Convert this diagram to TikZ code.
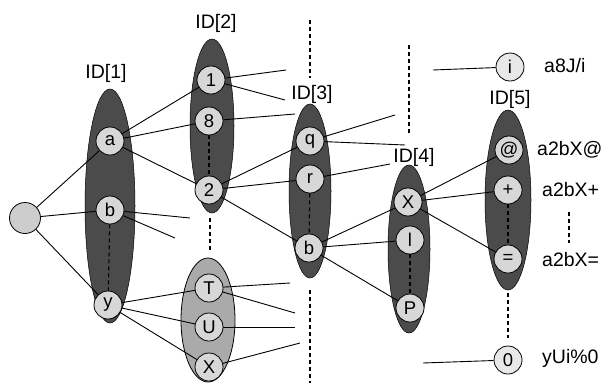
\documentclass[tikz,border=0pt]{standalone}
\usepackage{fontspec}
\setmainfont{Liberation Sans}
\usetikzlibrary{shapes.geometric}
\definecolor{grpdark}{RGB}{75,75,75}
\definecolor{grplight}{RGB}{170,170,170}
\definecolor{ndfill}{RGB}{215,215,215}
\definecolor{rootfill}{RGB}{205,205,205}
\definecolor{endfill}{RGB}{232,232,232}
\tikzset{
  grp/.style={ellipse, draw=black, line width=0.5pt, fill=grpdark, inner sep=0pt},
  grplt/.style={ellipse, draw=black, line width=0.8pt, fill=grplight, inner sep=0pt},
  nd/.style={circle, draw=black, line width=0.8pt, fill=ndfill, minimum size=28pt, inner sep=0pt, font=\fontsize{18.5}{20}\selectfont},
  endnd/.style={nd, fill=endfill},
  lbl/.style={font=\fontsize{19.5}{22}\selectfont, inner sep=0pt},
  edge/.style={line width=0.9pt},
  dsh/.style={line width=1.1pt, dash pattern=on 4pt off 3pt}
}
\begin{document}
\begin{tikzpicture}[x=1pt,y=-1pt]
\useasboundingbox (0,0) rectangle (610,383);
% group ellipses
\node[grp, minimum width=50pt, minimum height=234pt] (g1) at (110,206) {};
\node[grp, minimum width=44pt, minimum height=174pt] (g2) at (212,126) {};
\node[grplt, minimum width=54pt, minimum height=124pt] (g2b) at (208,320) {};
\node[grp, minimum width=42pt, minimum height=174pt] (g3) at (310,191) {};
\node[grp, minimum width=42pt, minimum height=168pt] (g4) at (409,249) {};
\node[grp, minimum width=46pt, minimum height=180pt] (g5) at (508,200) {};
% group labels
\node[lbl] (l1) at (106,73) {ID[1]};
\node[lbl] (l2) at (216,23) {ID[2]};
\node[lbl] (l3) at (312,94) {ID[3]};
\node[lbl] (l4) at (414,157) {ID[4]};
\node[lbl] (l5) at (510,99) {ID[5]};
% nodes
\node[nd, fill=rootfill, minimum size=31pt] (root) at (25,218) {};
\node[nd] (a) at (110,141) {a};
\node[nd] (b) at (110,210) {b};
\node[nd] (y) at (108,305) {y};
\node[nd] (n1) at (211,80) {1};
\node[nd] (n8) at (209,121) {8};
\node[nd] (n2) at (209,190) {2};
\node[nd] (T) at (209,288) {T};
\node[nd] (U) at (209,327) {U};
\node[nd] (X) at (209,367) {X};
\node[nd] (q) at (310,141) {q};
\node[nd] (r) at (310,179) {r};
\node[nd] (b3) at (309,248) {b};
\node[nd] (X4) at (408,202) {X};
\node[nd] (l) at (410,240) {l};
\node[nd] (P) at (410,308) {P};
\node[nd] (at) at (509,150) {@};
\node[nd] (plus) at (508,190) {+};
\node[nd] (eq) at (508,259) {=};
\node[endnd] (i) at (510,67) {i};
\node[endnd] (z) at (508,360) {0};
% right labels
\node[lbl, anchor=west] (ti) at (544,66) {a8J/i};
\node[lbl, anchor=west] (tat) at (537,150) {a2bX@};
\node[lbl, anchor=west] (tplus) at (542,190) {a2bX+};
\node[lbl, anchor=west] (teq) at (542,260) {a2bX=};
\node[lbl, anchor=west] (tz) at (542,358) {yUi\%0};
% free ends
\coordinate (fb1) at (190,218);
\coordinate (fb2) at (175,238);
\coordinate (f11) at (286,70);
\coordinate (f12) at (285,100);
\coordinate (f8) at (295,114);
\coordinate (fq1) at (395,115);
\coordinate (fq2) at (405,145);
\coordinate (fr) at (390,164);
\coordinate (fT1) at (290,283);
\coordinate (fT2) at (295,313);
\coordinate (fU) at (295,327);
\coordinate (fX) at (300,343);
\coordinate (fi) at (433,70);
\coordinate (fz) at (423,363);
% dashed separators
\coordinate (d3a) at (310,20);
\coordinate (d3b) at (310,78);
\coordinate (d3c) at (310,290);
\coordinate (d3d) at (310,383);
\coordinate (d4a) at (409,45);
\coordinate (d4b) at (409,133);
\coordinate (d2a) at (210,218);
\coordinate (d2b) at (210,252);
\coordinate (d5a) at (508,293);
\coordinate (d5b) at (508,338);
\coordinate (dta) at (569,212);
\coordinate (dtb) at (569,243);
\draw[dsh] (d3a) -- (d3b);
\draw[dsh] (d3c) -- (d3d);
\draw[dsh] (d4a) -- (d4b);
\draw[dsh] (d2a) -- (d2b);
\draw[dsh] (d5a) -- (d5b);
\draw[dsh] (dta) -- (dtb);
\draw[dsh] (b) -- (y);
\draw[dsh] (n8) -- (n2);
\draw[dsh] (r) -- (b3);
\draw[dsh] (l) -- (P);
\draw[dsh] (plus) -- (eq);
% edges
\draw[edge] (root) -- (a);
\draw[edge] (root) -- (b);
\draw[edge] (root) -- (y);
\draw[edge] (a) -- (n1);
\draw[edge] (a) -- (n8);
\draw[edge] (a) -- (n2);
\draw[edge] (b) -- (fb1);
\draw[edge] (b) -- (fb2);
\draw[edge] (y) -- (T);
\draw[edge] (y) -- (U);
\draw[edge] (y) -- (X);
\draw[edge] (n1) -- (f11);
\draw[edge] (n1) -- (f12);
\draw[edge] (n8) -- (f8);
\draw[edge] (n2) -- (q);
\draw[edge] (n2) -- (r);
\draw[edge] (n2) -- (b3);
\draw[edge] (q) -- (fq1);
\draw[edge] (q) -- (fq2);
\draw[edge] (r) -- (fr);
\draw[edge] (b3) -- (X4);
\draw[edge] (b3) -- (l);
\draw[edge] (b3) -- (P);
\draw[edge] (T) -- (fT1);
\draw[edge] (T) -- (fT2);
\draw[edge] (U) -- (fU);
\draw[edge] (X) -- (fX);
\draw[edge] (X4) -- (at);
\draw[edge] (X4) -- (plus);
\draw[edge] (X4) -- (eq);
\draw[edge] (fi) -- (i);
\draw[edge] (fz) -- (z);
\end{tikzpicture}
\end{document}
